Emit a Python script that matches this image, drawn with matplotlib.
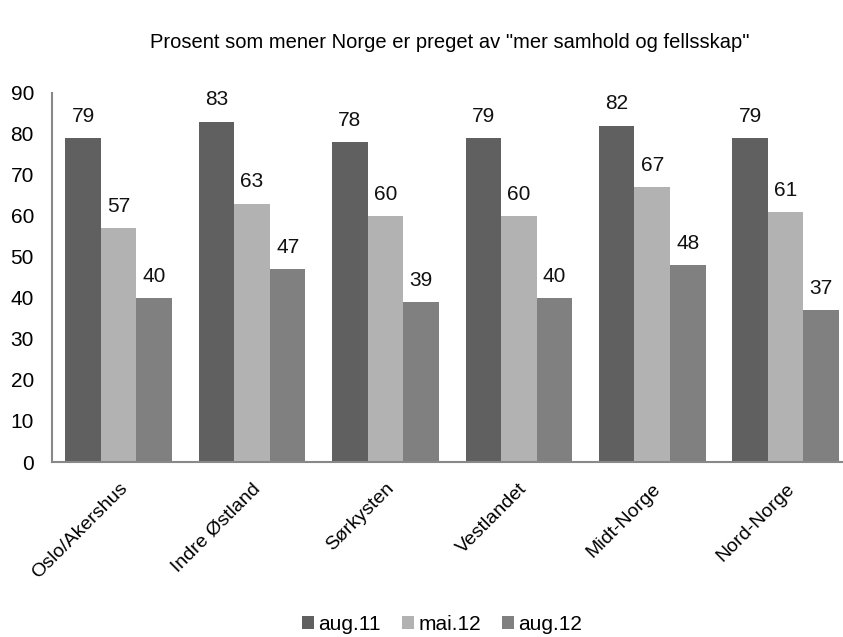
import numpy as np
import matplotlib.pyplot as plt

plt.rcParams['font.family'] = ['Liberation Sans', 'DejaVu Sans']

regions = ["Oslo/Akershus", "Indre Østland", "Sørkysten", "Vestlandet", "Midt-Norge", "Nord-Norge"]
series_names = ["aug.11", "mai.12", "aug.12"]
aug11 = [79, 83, 78, 79, 82, 79]
mai12 = [57, 63, 60, 60, 67, 61]
aug12 = [40, 47, 39, 40, 48, 37]
colors = ["#606060", "#b2b2b2", "#808080"]

fig = plt.figure(figsize=(8.43, 6.37), dpi=100)
ax = fig.add_axes([52 / 843, 1 - 462 / 637, 1 - 52 / 843, (462 - 93) / 637])

x = np.arange(len(regions))
w = 0.8 / 3
for i, (vals, name) in enumerate(zip([aug11, mai12, aug12], series_names)):
    pos = x - 0.4 + w * (i + 0.5)
    ax.bar(pos, vals, width=w, color=colors[i], label=name, zorder=2)
    for px, v in zip(pos, vals):
        ax.text(px, v + 3, str(v), ha='center', va='bottom', fontsize=15, color='#111111')

ax.set_ylim(0, 90)
ax.set_xlim(-0.5, 5.43)
ax.set_yticks(range(0, 91, 10))
ax.tick_params(axis='y', length=0, labelsize=15, pad=13)
ax.tick_params(axis='x', length=0, labelsize=14, pad=13)
ax.set_xticks(x)
ax.set_xticklabels(regions, rotation=45, ha='right', rotation_mode='anchor')

for s in ['top', 'right']:
    ax.spines[s].set_visible(False)
for s in ['left', 'bottom']:
    ax.spines[s].set_color('#888888')
    ax.spines[s].set_linewidth(1.5)

fig.text(450 / 843, 1 - 42 / 637, 'Prosent som mener Norge er preget av "mer samhold og fellsskap"',
         ha='center', va='center', fontsize=14.5)

fig.legend(loc='center', bbox_to_anchor=(442 / 843, 1 - 624 / 637), ncol=3, frameon=False,
           fontsize=15, handlelength=0.6, handleheight=0.6, handletextpad=0.2, columnspacing=1.0)

fig.savefig("out.png", dpi=100)
